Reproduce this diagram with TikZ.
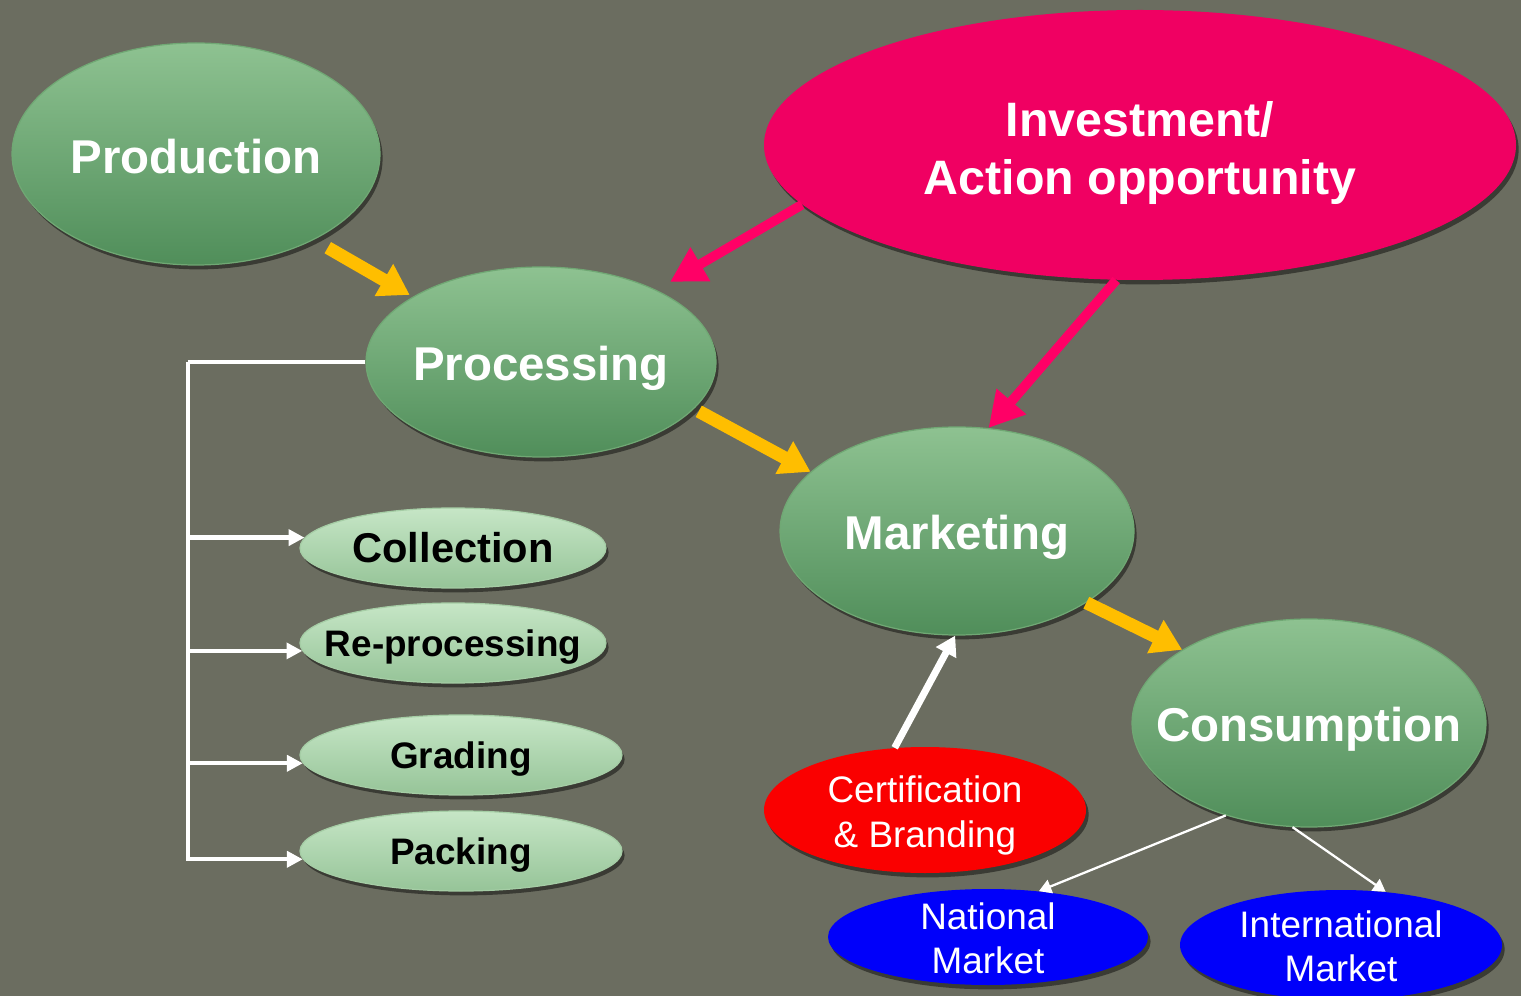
\documentclass[tikz,border=0pt]{standalone}
\usepackage{fontspec}
\setmainfont{Liberation Sans}
\usetikzlibrary{shapes.geometric,arrows.meta,shadows}
\definecolor{bg}{RGB}{107,109,96}
\definecolor{gtop}{RGB}{142,194,145}
\definecolor{gbot}{RGB}{80,142,90}
\definecolor{gedge}{RGB}{112,168,116}
\definecolor{stop}{RGB}{198,230,198}
\definecolor{sbot}{RGB}{150,196,152}
\definecolor{sedge}{RGB}{165,205,165}
\definecolor{invc}{RGB}{240,0,98}
\definecolor{pnk}{RGB}{255,0,102}
\definecolor{yel}{RGB}{255,190,0}
\definecolor{redc}{RGB}{250,0,0}
\definecolor{bluc}{RGB}{0,0,250}
\begin{document}
\begin{tikzpicture}[x=0.02cm,y=-0.02cm,
  ell/.style={ellipse,inner sep=0pt,
    drop shadow={shadow xshift=1.5pt,shadow yshift=-2.5pt,opacity=0.45,fill=black}},
  big/.style={ell,top color=gtop,bottom color=gbot,draw=gedge,line width=0.7pt},
  small/.style={ell,top color=stop,bottom color=sbot,draw=sedge,line width=0.7pt},
  wbig/.style={text=white,font=\fontsize{27}{32}\selectfont\bfseries,align=center,yshift=-3.5pt},
  btxt/.style={text=black,font=\fontsize{21}{25}\selectfont\bfseries,yshift=-2.5pt},
  rtxt/.style={text=white,font=\fontsize{21}{25}\selectfont,align=center,yshift=-1pt},
  yarr/.style={draw=yel,line width=7.4pt,-{Triangle[length=17pt,width=20pt]}},
  parr/.style={draw=pnk,line width=5.5pt,-{Triangle[length=20pt,width=21pt]}},
  warr/.style={draw=white,line width=4pt,-{Triangle[length=11pt,width=12.5pt]}},
  tarr/.style={draw=white,line width=1.3pt,-{Triangle[length=7pt,width=8pt]}},
  brk/.style={draw=white,line width=2.5pt},
  brka/.style={brk,-{Triangle[length=9pt,width=9pt]}}
]
\fill[bg] (0,0) rectangle (1521,996);
\useasboundingbox (0,0) rectangle (1521,996);

\node[big,minimum width=368*0.02cm,minimum height=222*0.02cm,
  label={[wbig,yshift=2pt]center:Production}] (prod) at (196,154) {};
\node[ell,fill=invc,minimum width=752*0.02cm,minimum height=270*0.02cm,
  label={[wbig,yshift=-1pt,font=\fontsize{27.5}{33}\selectfont\bfseries]center:Investment/\\Action opportunity}] (inv) at (1140,145) {};
\node[big,minimum width=350*0.02cm,minimum height=190*0.02cm,
  label={[wbig]center:Processing}] (proc) at (541,362) {};
\node[big,minimum width=354*0.02cm,minimum height=208*0.02cm,
  label={[wbig]center:Marketing}] (mark) at (957,531) {};
\node[big,minimum width=354*0.02cm,minimum height=208*0.02cm,
  label={[wbig]center:Consumption}] (cons) at (1309,723) {};

\node[small,minimum width=306*0.02cm,minimum height=80*0.02cm,
  label={[btxt,yshift=2.5pt,font=\fontsize{23.7}{28}\selectfont\bfseries]center:Collection}] (coll) at (453,548) {};
\node[small,minimum width=306*0.02cm,minimum height=80*0.02cm,
  label={[btxt]center:Re-processing}] (repr) at (453,643) {};
\node[small,minimum width=322*0.02cm,minimum height=80*0.02cm,
  label={[btxt]center:Grading}] (grad) at (461,755) {};
\node[small,minimum width=322*0.02cm,minimum height=80*0.02cm,
  label={[btxt]center:Packing}] (pack) at (461,851) {};

\node[ell,fill=redc,minimum width=322*0.02cm,minimum height=126*0.02cm,
  label={[rtxt,yshift=-2pt,font=\fontsize{21}{25.5}\selectfont]center:Certification\\\& Branding}] (cert) at (925,810) {};
\node[ell,fill=bluc,minimum width=320*0.02cm,minimum height=96*0.02cm,
  label={[rtxt]center:National\\Market}] (nat) at (988,937) {};
\node[ell,fill=bluc,minimum width=322*0.02cm,minimum height=110*0.02cm,
  label={[rtxt]center:International\\Market}] (intl) at (1341,945) {};

% yellow flow arrows
\draw[yarr,shorten <=9pt,shorten >=2pt] (prod.-36) -- (proc.153);
\draw[yarr,shorten <=3pt] (proc.-17) -- (mark.158);
\draw[yarr] (mark.-29) -- (cons.150);
% pink arrows
\draw[parr,shorten >=9pt] (inv.190) -- (proc.32);
\draw[parr] (inv.260) -- (mark.73);
% white arrows
\draw[warr] (cert.116) -- (mark.269);
\draw[tarr] (cons.228) -- (nat.42);
\draw[tarr] (cons.261) -- (intl.50);
% bracket
\coordinate (bx) at (188,362);
\draw[brk] (proc.west) -- (bx);
\draw[brka] (bx) |- (coll.176);
\draw[brka] (bx) |- (repr.183);
\draw[brka] (bx) |- (grad.183);
\draw[brka] (bx) |- (pack.183);
\end{tikzpicture}
\end{document}
